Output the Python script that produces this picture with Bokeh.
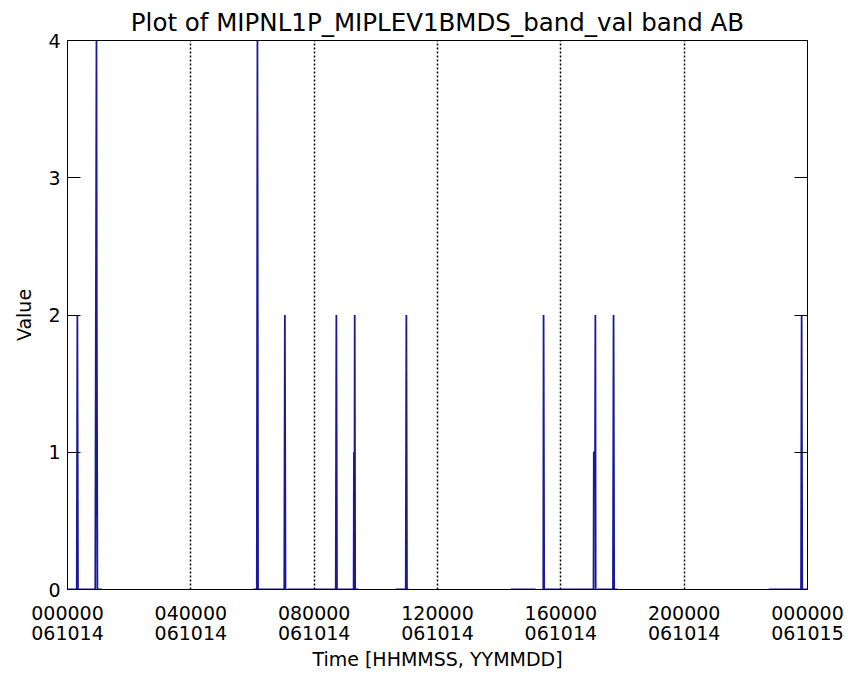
from bokeh.plotting import figure
from bokeh.models import Range1d, LinearAxis, FixedTicker
from bokeh.embed import file_html
from bokeh.resources import INLINE

nan = float("nan")

TITLE = "Plot of MIPNL1P_MIPLEV1BMDS_band_val band AB"
X_LABEL = "Time [HHMMSS, YYMMDD]"
Y_LABEL = "Value"

# x axis: hours since 061014 000000
x_tick_hours = [0, 4, 8, 12, 16, 20, 24]
x_tick_labels = ["000000\n061014", "040000\n061014", "080000\n061014",
                 "120000\n061014", "160000\n061014", "200000\n061014",
                 "000000\n061015"]
grid_hours = [4, 8, 12, 16, 20]
y_ticks = [0, 1, 2, 3, 4]

# band value samples (hours, value); NaN marks gaps in the data
time_h = [0.00, 0.30, 0.32, 0.34, 0.90, 0.92, 0.94, 0.95, 0.97, 1.12, nan,
          6.03, 6.14, 6.16, 6.18, 6.99, 7.03, 7.05, 7.07, nan,
          7.13, 8.70, 8.72, 8.74, 9.28, 9.29, 9.30, 9.31, 9.315, 9.33, 9.44, nan,
          10.64, 10.97, 10.99, 11.01, 11.06, nan,
          14.37, 15.18, nan,
          15.43, 15.44, 15.46, 17.06, 17.07, 17.11, 17.12, 17.13, nan,
          17.18, 17.69, 17.71, 17.73, 17.84, nan,
          22.74, 23.79, 23.81, 23.83, 24.00]
band_val = [0, 0, 2, 0, 0, 2, 4, 2, 0, 0, nan,
            0, 0, 4, 0, 0, 0, 2, 0, nan,
            0, 0, 2, 0, 0, 1, 0, 1, 2, 0, 0, nan,
            0, 0, 2, 0, 0, nan,
            0, 0, nan,
            0, 2, 0, 0, 1, 1, 2, 0, nan,
            0, 0, 2, 0, 0, nan,
            0, 0, 2, 0, 0]

FONT = "DejaVu Sans"

p = figure(width=850, height=673, output_backend="svg", toolbar_location=None,
           x_range=Range1d(0, 24), y_range=Range1d(0, 4),
           min_border_left=67, min_border_right=43, min_border_top=40,
           min_border_bottom=81)

p.title.text = TITLE
p.title.align = "center"
p.title.text_font = FONT
p.title.text_font_size = "24.5px"
p.title.text_font_style = "normal"
p.title.text_color = "black"
p.title.standoff = 8

p.outline_line_color = "black"
p.outline_line_width = 1
p.background_fill_color = "white"
p.border_fill_color = "white"

# x axis
xa = p.xaxis[0]
xa.ticker = FixedTicker(ticks=x_tick_hours)
xa.major_label_overrides = {float(h): lab for h, lab in zip(x_tick_hours, x_tick_labels)}
xa.major_tick_in = 0
xa.major_tick_out = 0
xa.minor_tick_in = 0
xa.minor_tick_out = 0
xa.axis_line_color = "black"
xa.major_label_text_font = FONT
xa.major_label_text_font_size = "19px"
xa.major_label_text_line_height = 0.95
xa.major_label_text_color = "black"
xa.major_label_standoff = 12
xa.axis_label = X_LABEL
xa.axis_label_text_font = FONT
xa.axis_label_text_font_size = "19px"
xa.axis_label_text_font_style = "normal"
xa.axis_label_text_color = "black"
xa.axis_label_standoff = 1

# y axis
ya = p.yaxis[0]
ya.ticker = FixedTicker(ticks=y_ticks)
ya.major_tick_in = 13
ya.major_tick_out = 0
ya.minor_tick_in = 0
ya.minor_tick_out = 0
ya.major_tick_line_color = "black"
ya.axis_line_color = "black"
ya.major_label_text_font = FONT
ya.major_label_text_font_size = "19px"
ya.major_label_text_color = "black"
ya.major_label_standoff = 7
ya.axis_label = Y_LABEL
ya.axis_label_text_font = FONT
ya.axis_label_text_font_size = "19px"
ya.axis_label_text_font_style = "normal"
ya.axis_label_text_color = "black"
ya.axis_label_standoff = 10

ry = LinearAxis(ticker=FixedTicker(ticks=y_ticks), major_tick_in=13, major_tick_out=0,
                minor_tick_in=0, minor_tick_out=0, major_label_text_color=None,
                axis_line_color="black", major_tick_line_color="black")
p.add_layout(ry, "right")

# grids: dotted verticals at the 4-hour marks
p.xgrid.ticker = FixedTicker(ticks=grid_hours)
p.xgrid.grid_line_color = "black"
p.xgrid.grid_line_dash = "2 2"
p.xgrid.grid_line_width = 1.5
p.ygrid.grid_line_color = None

p.line(time_h, band_val, line_color="#1a1a99", line_width=1.8)

open("out.html", "w").write(file_html(p, INLINE))
